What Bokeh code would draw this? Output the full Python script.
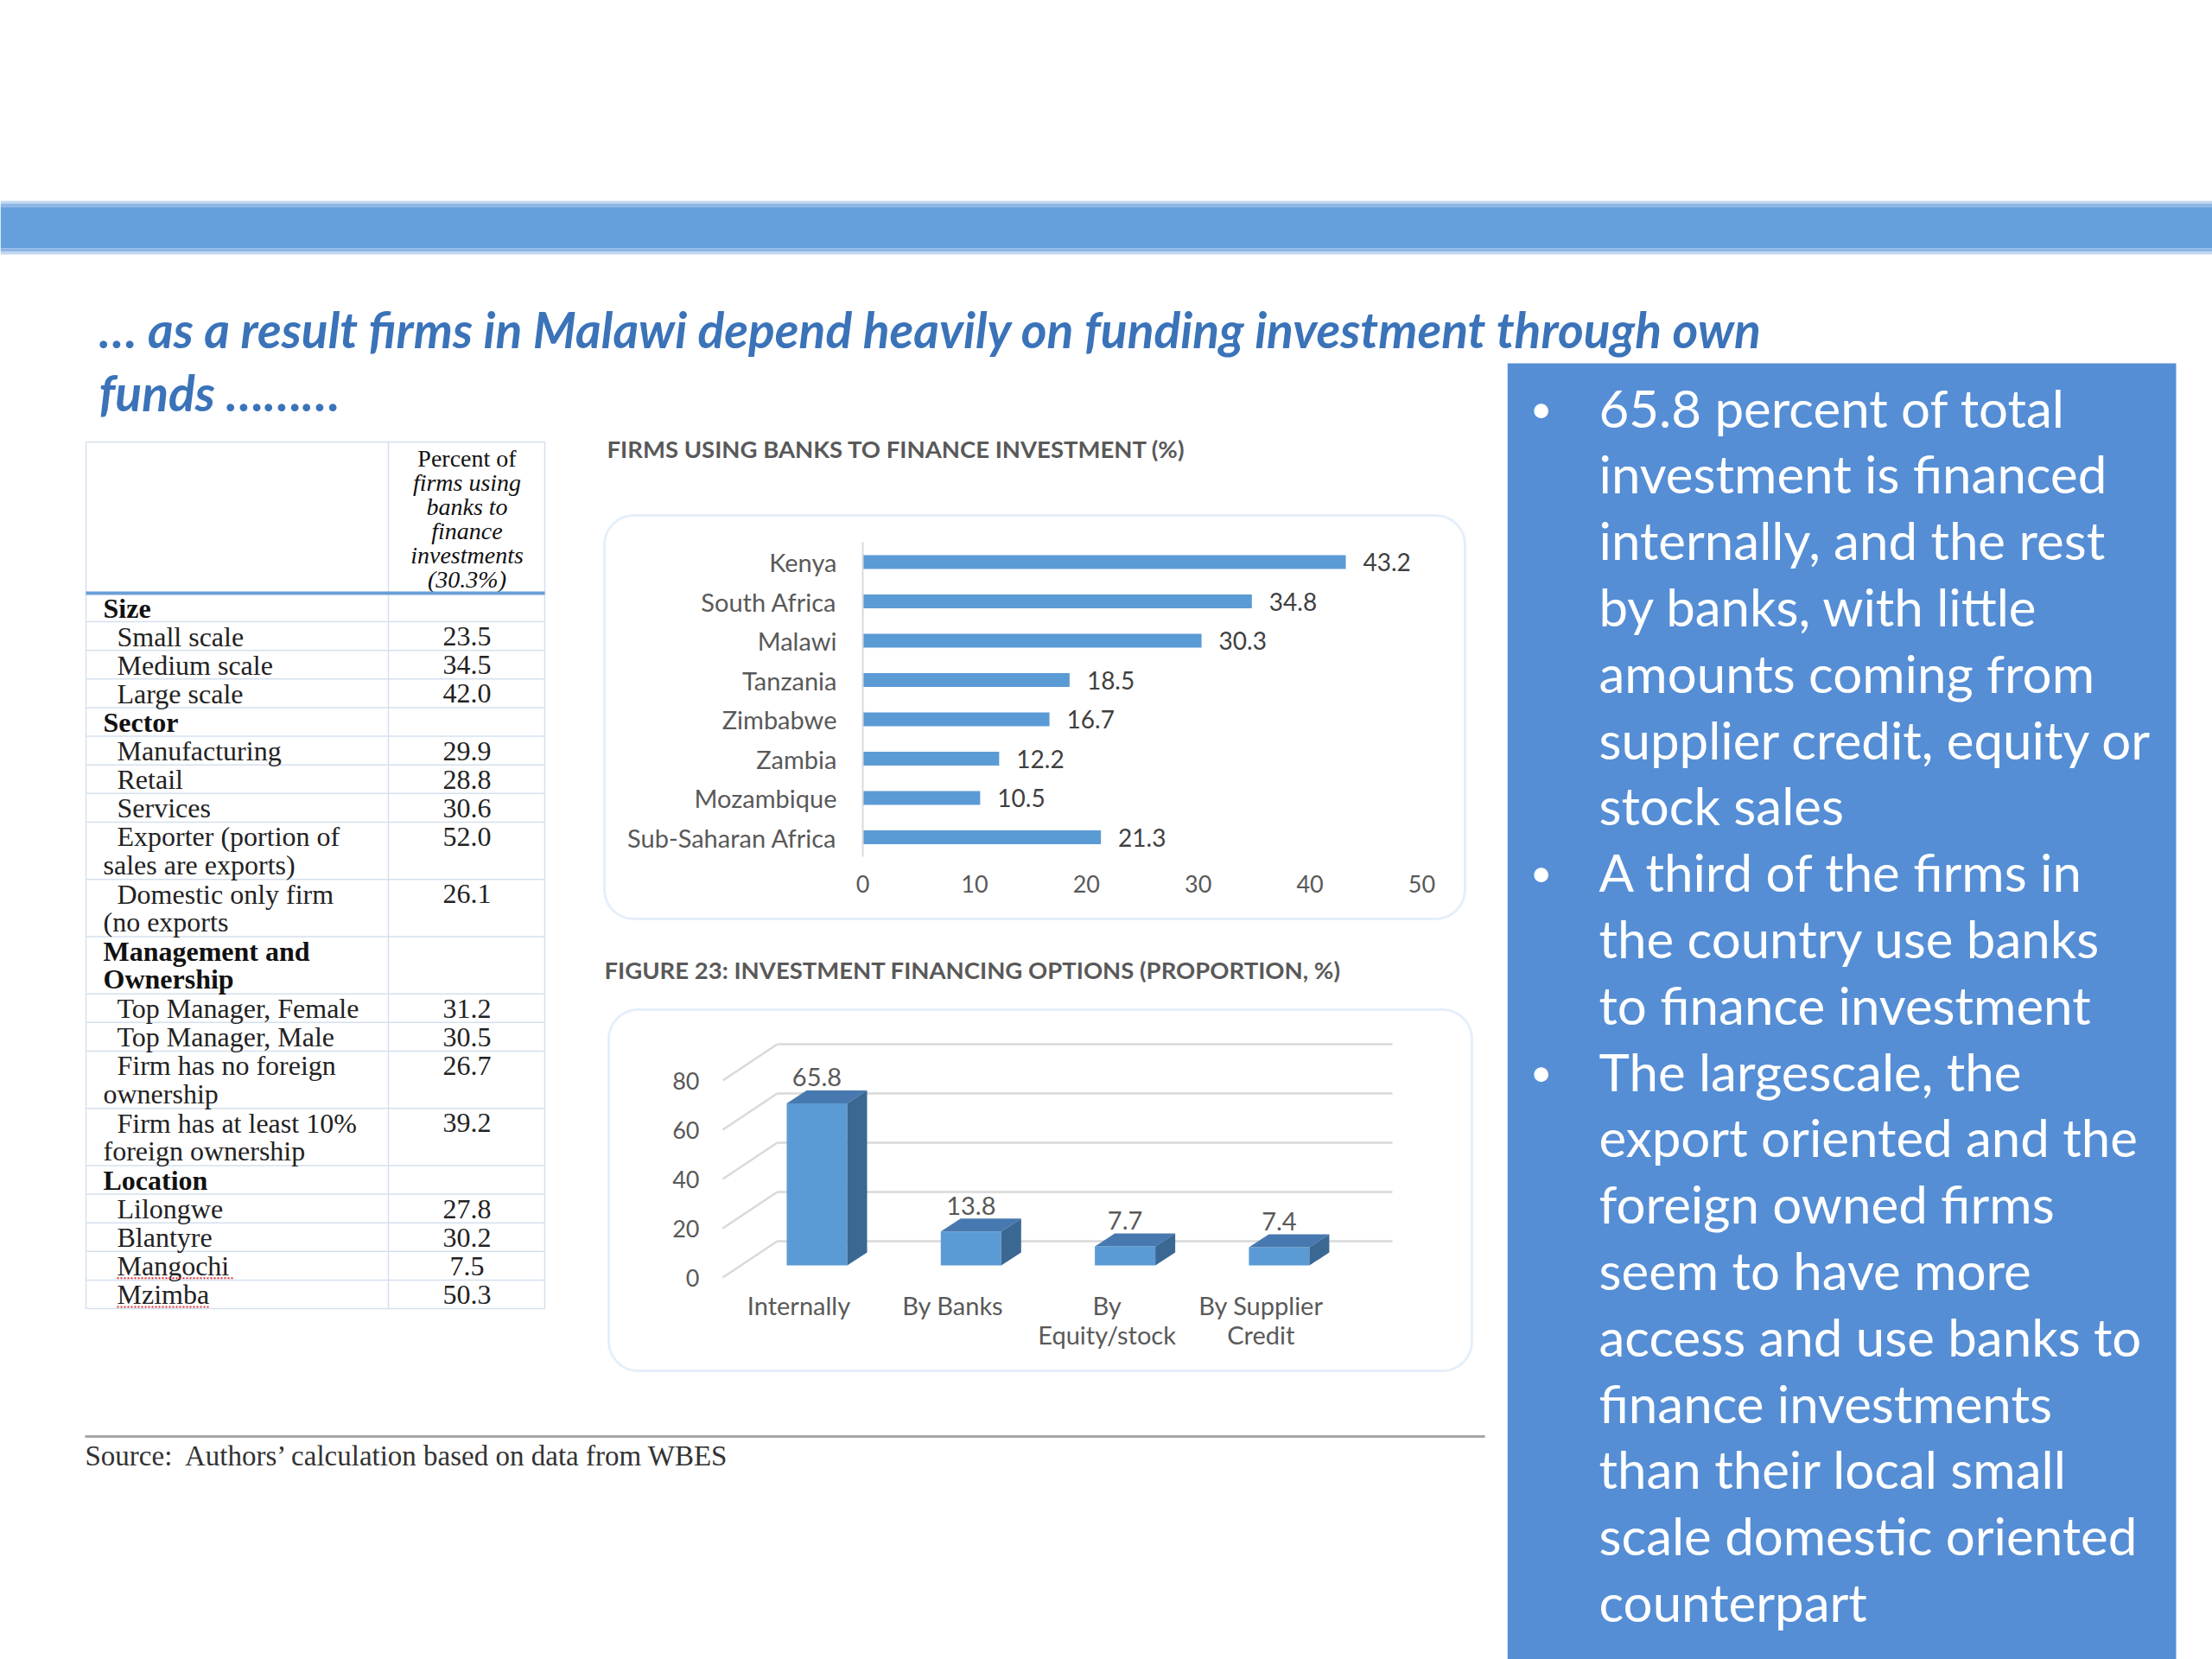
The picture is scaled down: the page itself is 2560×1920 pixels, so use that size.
from bokeh.plotting import figure
from bokeh.models import Range1d, LinearAxis, FixedTicker, BoxAnnotation
from bokeh.layouts import row, column
from bokeh.embed import file_html
from bokeh.resources import INLINE
from bokeh.core.properties import value

# ---------------- data ----------------
title_lines = ["… as a result firms in Malawi depend heavily on funding investment through own",
               "funds ………"]

chart1_title = "FIRMS USING BANKS TO FINANCE INVESTMENT (%)"
countries = ["Kenya", "South Africa", "Malawi", "Tanzania", "Zimbabwe", "Zambia",
             "Mozambique", "Sub-Saharan Africa"]
bank_pct = [43.2, 34.8, 30.3, 18.5, 16.7, 12.2, 10.5, 21.3]
bank_ticks = [0, 10, 20, 30, 40, 50]

chart2_title = "FIGURE 23: INVESTMENT FINANCING OPTIONS (PROPORTION, %)"
options = ["Internally", "By Banks", "By\nEquity/stock", "By Supplier\nCredit"]
option_pct = [65.8, 13.8, 7.7, 7.4]
option_ticks = [0, 20, 40, 60, 80]

table_header = ["Percent of", "firms using", "banks to", "finance", "investments", "(30.3%)"]
table_rows = ["Size", "Small scale", "Medium scale", "Large scale", "Sector",
              "Manufacturing", "Retail", "Services",
              "Exporter (portion of\nsales are exports)", "Domestic only firm\n(no exports",
              "Management and\nOwnership", "Top Manager, Female", "Top Manager, Male",
              "Firm has no foreign\nownership", "Firm has at least 10%\nforeign ownership",
              "Location", "Lilongwe", "Blantyre", "Mangochi", "Mzimba"]
table_values = ["", "23.5", "34.5", "42.0", "", "29.9", "28.8", "30.6", "52.0", "26.1",
                "", "31.2", "30.5", "26.7", "39.2", "", "27.8", "30.2", "7.5", "50.3"]
table_heading = [True, False, False, False, True, False, False, False, False, False,
                 True, False, False, False, False, True, False, False, False, False]

source_text = "Source:\u00a0 Authors’ calculation based on data from WBES"

bullets = [
    ["65.8 percent of total", "investment is financed", "internally, and the rest",
     "by banks, with little", "amounts coming from", "supplier credit, equity or", "stock sales"],
    ["A third of the firms in", "the country use banks", "to finance investment"],
    ["The largescale, the", "export oriented and the", "foreign owned firms",
     "seem to have more", "access and use banks to", "finance investments",
     "than their local small", "scale domestic oriented", "counterpart"],
]

# ---------------- styles ----------------
SANS = "Lato"
SERIF = "Liberation Serif"
TITLE_BLUE = "#3B73B9"
BAR_BLUE = "#5B9BD5"
TOP_BLUE = "#4779B0"
SIDE_BLUE = "#3B6893"
GREY_TXT = "#595959"
DARK_TXT = "#404040"
BOX_LINE = "#A9C9EA"
GRID = "#D9D9D9"

SPLIT = 416   # boundary between the top band and the body


def canvas(x0, x1, y0, y1):
    return figure(width=x1 - x0, height=y1 - y0, x_range=Range1d(x0, x1), y_range=Range1d(y1, y0),
                  x_axis_type=None, y_axis_type=None, toolbar_location=None,
                  output_backend="svg", min_border=0, outline_line_color=None, title=None)


def chart_fig(x0, x1, y0, y1, xr, yr):
    p = figure(width=x1 - x0, height=y1 - y0, x_range=xr, y_range=yr,
               x_axis_type=None, y_axis_type=None, toolbar_location=None,
               output_backend="svg", min_border=0, outline_line_color=None, title=None)
    p.extra_x_ranges = {"px": Range1d(x0, x1)}
    p.extra_y_ranges = {"px": Range1d(y1, y0)}
    return p


# ---------------- top band ----------------
top = canvas(0, 2560, 0, SPLIT)
bands_top = [232, 235, 239, 287, 291]
bands_bot = [235, 239, 287, 291, 294]
bands_col = ["#C2D8F1", "#8DB6E6", "#65A0DC", "#8DB6E6", "#C2D8F1"]
top.quad(left=0, right=2560, top=bands_top, bottom=bands_bot, color=bands_col, line_color=None)
top.text(x=[114], y=[380], text=[title_lines[0]], text_font=value(SANS),
         text_font_style="bold italic", text_font_size="57px", text_color=TITLE_BLUE,
         text_baseline="middle")

# ---------------- table ----------------
tf = canvas(0, 694, SPLIT, 1600)
tf.text(x=[114], y=[453], text=[title_lines[1]], text_font=value(SANS),
        text_font_style="bold italic", text_font_size="57px", text_color=TITLE_BLUE,
        text_baseline="middle")

T_LEFT, T_MID, T_RIGHT, T_TOP, T_HEAD = 99, 449, 630, 511, 686
UNIT = 33.12
LINE_COL = "#D5E0EE"

# header text
hy = [530 + 28 * k for k in range(len(table_header))]
tf.text(x=[540], y=[hy[0]], text=[table_header[0]], text_font=value(SERIF),
        text_font_size="28px", text_color="#111111", text_align="center", text_baseline="middle")
tf.text(x=[540] * (len(table_header) - 1), y=hy[1:], text=table_header[1:], text_font=value(SERIF),
        text_font_style="italic", text_font_size="28px", text_color="#111111",
        text_align="center", text_baseline="middle")

bold_x, bold_y, bold_t = [], [], []
reg_x, reg_y, reg_t = [], [], []
val_y, val_t = [], []
bounds = [T_HEAD]
row_tops = []
ycur = T_HEAD
for lab, val, head in zip(table_rows, table_values, table_heading):
    lines = lab.split("\n")
    row_tops.append(ycur)
    for k, ln in enumerate(lines):
        xx = 119 if (head or k > 0) else 135
        yy = ycur + 17 + 32.3 * k
        if head:
            bold_x.append(xx); bold_y.append(yy); bold_t.append(ln)
        else:
            reg_x.append(xx); reg_y.append(yy); reg_t.append(ln)
    if val:
        val_y.append(ycur + 17); val_t.append(val)
    ycur += UNIT * len(lines)
    bounds.append(ycur)
T_BOTTOM = ycur

tf.segment(x0=T_LEFT, x1=T_RIGHT, y0=[T_TOP] + bounds[1:], y1=[T_TOP] + bounds[1:],
           line_color=LINE_COL, line_width=1.5)
tf.segment(x0=[T_LEFT, T_MID, T_RIGHT], x1=[T_LEFT, T_MID, T_RIGHT], y0=T_TOP, y1=T_BOTTOM,
           line_color=LINE_COL, line_width=1.5)
tf.segment(x0=T_LEFT, x1=T_RIGHT, y0=T_HEAD, y1=T_HEAD, line_color="#6A9FD8", line_width=4)

tf.text(x=bold_x, y=bold_y, text=bold_t, text_font=value(SERIF), text_font_style="bold",
        text_font_size="32px", text_color="#111111", text_baseline="middle")
tf.text(x=reg_x, y=reg_y, text=reg_t, text_font=value(SERIF),
        text_font_size="32px", text_color="#222222", text_baseline="middle")
tf.text(x=[540] * len(val_y), y=val_y, text=val_t, text_font=value(SERIF),
        text_font_size="32px", text_color="#222222", text_align="center", text_baseline="middle")
# spell-check squiggles
i_m1, i_m2 = table_rows.index("Mangochi"), table_rows.index("Mzimba")
tf.segment(x0=[135, 135], x1=[270, 243], y0=[row_tops[i_m1] + 31, row_tops[i_m2] + 31],
           y1=[row_tops[i_m1] + 31, row_tops[i_m2] + 31], line_color="#E03030",
           line_width=2, line_dash="2 2")

# ---------------- chart 1: horizontal bars ----------------
C1X0, C1S = 998.0, 12.94      # px of value 0, px per unit
C1Y0, C1STEP = 650.0, 45.5    # px of first category, px per category
c1 = chart_fig(694, 1744, SPLIT, 1080,
               Range1d((694 - C1X0) / C1S, (1744 - C1X0) / C1S),
               Range1d((1080 - C1Y0) / C1STEP, (SPLIT - C1Y0) / C1STEP))
c1.add_layout(BoxAnnotation(left=699, right=1695, top=596, bottom=1063,
                            x_range_name="px", y_range_name="px", fill_color=None,
                            line_color=BOX_LINE, line_width=3, border_radius=34))
c1.text(x=[702], y=[519], text=[chart1_title], x_range_name="px", y_range_name="px",
        text_font=value(SANS), text_font_style="bold", text_font_size="27.5px",
        text_color=GREY_TXT, text_baseline="middle")
idx1 = list(range(len(countries)))
c1.hbar(y=idx1, left=0, right=bank_pct, height=0.35, color=BAR_BLUE, line_color=None)
c1.text(x=bank_pct, y=idx1, text=[f"{v:.1f}" for v in bank_pct], x_offset=20,
        text_font=value(SANS), text_font_size="28px", text_color=DARK_TXT, text_baseline="middle")

ya1 = LinearAxis(ticker=FixedTicker(ticks=idx1),
                 major_label_overrides={i: c for i, c in zip(idx1, countries)},
                 fixed_location=0, bounds=(-0.5, len(countries) - 0.5),
                 axis_line_color=GRID, axis_line_width=2,
                 major_tick_line_color=None, minor_tick_line_color=None,
                 major_tick_in=0, major_tick_out=0, major_label_standoff=30,
                 major_label_text_font=SANS, major_label_text_font_size="29px",
                 major_label_text_color=GREY_TXT)
c1.add_layout(ya1, "left")
xa1 = LinearAxis(ticker=FixedTicker(ticks=bank_ticks), fixed_location=(1004 - C1Y0) / C1STEP,
                 axis_line_color=None, major_tick_line_color=None, minor_tick_line_color=None,
                 major_tick_in=0, major_tick_out=0, major_label_standoff=8,
                 major_label_text_font=SANS, major_label_text_font_size="27px",
                 major_label_text_color=GREY_TXT)
c1.add_layout(xa1, "below")

# ---------------- chart 2: 3-D columns ----------------
C2X0, C2S = 924.0, 178.3     # px of first category (front plane), px per category
C2Y0, C2S_Y = 1478.0, 2.85   # px of value 0 (front plane), px per unit
c2 = chart_fig(694, 1744, 1080, 1600,
               Range1d((694 - C2X0) / C2S, (1744 - C2X0) / C2S),
               Range1d((C2Y0 - 1600) / C2S_Y, (C2Y0 - 1080) / C2S_Y))
c2.add_layout(BoxAnnotation(left=704, right=1703, top=1168, bottom=1586,
                            x_range_name="px", y_range_name="px", fill_color=None,
                            line_color=BOX_LINE, line_width=3, border_radius=34))
c2.text(x=[699], y=[1122], text=[chart2_title], x_range_name="px", y_range_name="px",
        text_font=value(SANS), text_font_style="bold", text_font_size="27.5px",
        text_color=GREY_TXT, text_baseline="middle")

# wall geometry (px offsets converted to data units)
wall_dx, wall_dv = 63 / C2S, 42 / C2S_Y
front_left = (836 - C2X0) / C2S
right_end = (1611 - C2X0) / C2S
c2.segment(x0=front_left, x1=front_left + wall_dx, y0=option_ticks,
           y1=[v + wall_dv for v in option_ticks], line_color=GRID, line_width=2.5)
c2.segment(x0=front_left + wall_dx, x1=right_end, y0=[v + wall_dv for v in option_ticks],
           y1=[v + wall_dv for v in option_ticks], line_color=GRID, line_width=2.5)

bdx, bdv = 21 / C2S, 14 / C2S_Y        # bar front plane offset
ddx, ddv = 23 / C2S, 15 / C2S_Y        # bar depth
hw = 35 / C2S
idx2 = list(range(len(options)))
L = [i + bdx - hw for i in idx2]
R = [i + bdx + hw for i in idx2]
T = [v + bdv for v in option_pct]
c2.quad(left=L, right=R, bottom=bdv, top=T, color=BAR_BLUE, line_color=None)
c2.patches(xs=[[l, r, r + ddx, l + ddx] for l, r in zip(L, R)],
           ys=[[t, t, t + ddv, t + ddv] for t in T], color=TOP_BLUE, line_color=None)
c2.patches(xs=[[r, r + ddx, r + ddx, r] for r in R],
           ys=[[bdv, bdv + ddv, t + ddv, t] for t in T], color=SIDE_BLUE, line_color=None)
c2.text(x=[i + bdx for i in idx2], y=[t + ddv for t in T], y_offset=-15,
        text=[f"{v:.1f}" for v in option_pct], text_font=value(SANS), text_font_size="29px",
        text_color=GREY_TXT, text_align="center", text_baseline="middle")

ya2 = LinearAxis(ticker=FixedTicker(ticks=option_ticks), fixed_location=(822 - C2X0) / C2S,
                 axis_line_color=None, major_tick_line_color=None, minor_tick_line_color=None,
                 major_tick_in=0, major_tick_out=0, major_label_standoff=13,
                 major_label_text_font=SANS, major_label_text_font_size="27px",
                 major_label_text_color=GREY_TXT)
c2.add_layout(ya2, "left")
xa2 = LinearAxis(ticker=FixedTicker(ticks=idx2),
                 major_label_overrides={i: o for i, o in zip(idx2, options)},
                 fixed_location=0, axis_line_color=None, major_tick_line_color=None,
                 minor_tick_line_color=None, major_tick_in=0, major_tick_out=0,
                 major_label_standoff=14, major_label_text_font=SANS,
                 major_label_text_font_size="29px", major_label_text_color=GREY_TXT,
                 major_label_text_line_height=0.98)
c2.add_layout(xa2, "below")

# ---------------- source ----------------
src = canvas(0, 1744, 1600, 1920)
src.segment(x0=98, x1=1718, y0=1662, y1=1662, line_color="#A6A6A6", line_width=3)
src.text(x=[98], y=[1684], text=[source_text], text_font=value(SERIF), text_font_size="33px",
         text_color="#333333", text_baseline="middle")

# ---------------- right panel ----------------
pan = canvas(1744, 2560, SPLIT, 1920)
pan.quad(left=1744, right=2518, top=420, bottom=1920, color="#558ED5", line_color=None)
lx, ly, by = [], [], []
k = 0
for b in bullets:
    by.append(471 + 76.8 * k)
    for ln in b:
        lx.append(ln); ly.append(471 + 76.8 * k)
        k += 1
pan.text(x=[1850] * len(lx), y=ly, text=lx, text_font=value(SANS), text_font_size="60px",
         text_color="white", text_baseline="middle")
pan.text(x=[1783] * len(by), y=by, text=["•"] * len(by), text_font=value(SANS),
         text_font_size="44px", text_color="white", text_align="center", text_baseline="middle")

page = column(top, row(column(row(tf, column(c1, c2)), src), pan))
open("out.html", "w").write(file_html(page, INLINE))
